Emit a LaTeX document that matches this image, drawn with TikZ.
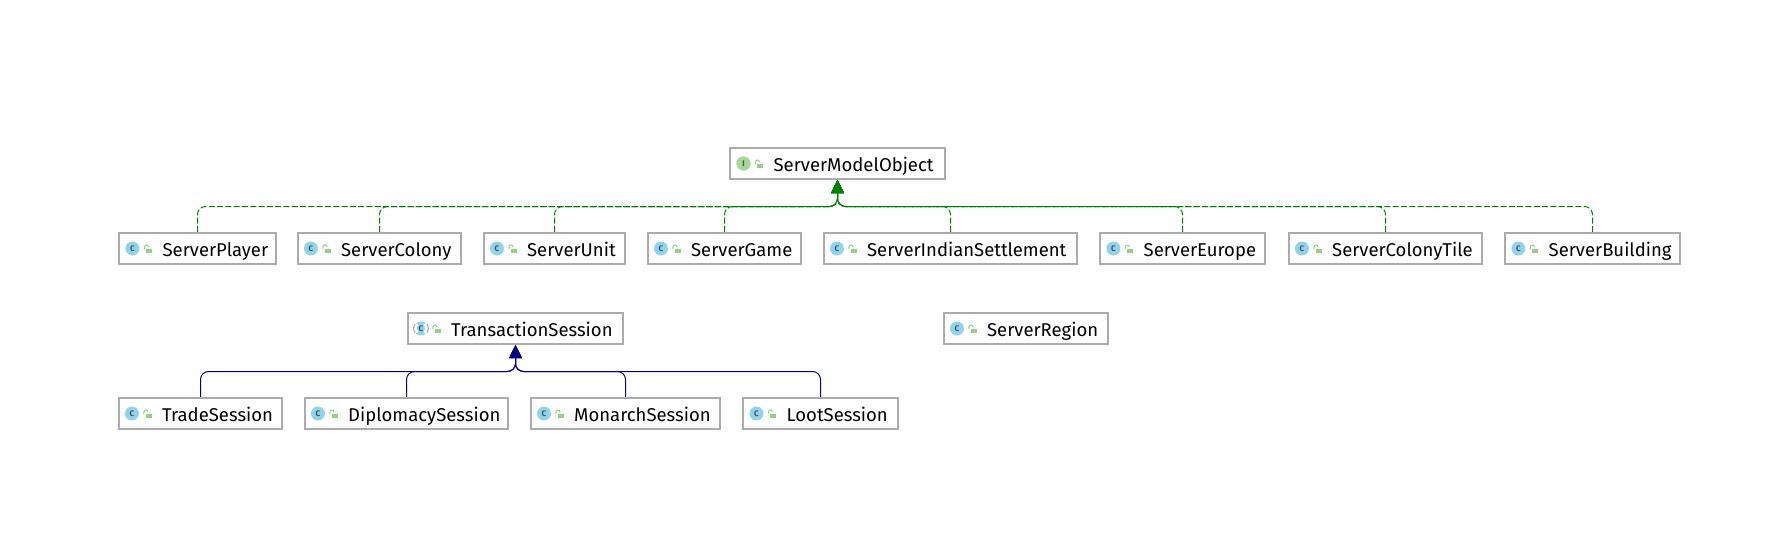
\documentclass[tikz,border=0pt]{standalone}
\usepackage{fontspec}
\setmainfont{Fira Sans}
\usetikzlibrary{arrows.meta}
\definecolor{boxgray}{HTML}{ABABAB}
\definecolor{classblue}{HTML}{8FD3EC}
\definecolor{ifacegreen}{HTML}{A6D795}
\definecolor{lockgreen}{HTML}{95CF85}
\definecolor{realizegreen}{HTML}{008000}
\definecolor{extendblue}{HTML}{000080}
\tikzset{
	classbox/.style={draw=boxgray, fill=white, line width=1.6pt, minimum height=31.5pt, inner sep=0pt},
	classlabel/.style={anchor=base west, inner sep=0pt, font=\fontsize{18.5}{20}\selectfont},
	classicon/.style={circle, fill=classblue, minimum size=14pt, inner sep=0pt, text=black!70, font=\fontsize{8}{8}\selectfont\bfseries},
	realize/.style={draw=realizegreen, line width=1pt, rounded corners=8pt, dash pattern=on 6pt off 2.3pt, -{Triangle[length=13pt,width=12.5pt,fill=realizegreen]}},
	extend/.style={draw=extendblue, line width=1pt, rounded corners=8pt, -{Triangle[length=13pt,width=12.5pt,fill=extendblue]}},
}
\begin{document}
\begin{tikzpicture}[x=1pt,y=-1pt]
	\useasboundingbox (0,0) rectangle (1776,548);

	% every box: name / centre x / centre y / width
	\foreach \name/\cx/\cy/\boxw in {
		ServerModelObject/837.5/163.5/214.5,
		ServerPlayer/197.5/248.5/156.5,
		ServerColony/379.5/248.5/163.5,
		ServerUnit/554.5/248.5/141.5,
		ServerGame/724.5/248.5/153.5,
		ServerIndianSettlement/950.5/248.5/253.5,
		ServerEurope/1182.5/248.5/164.5,
		ServerColonyTile/1385.5/248.5/193.5,
		ServerBuilding/1592.5/248.5/174.5,
		TransactionSession/515.5/328.5/215.5,
		ServerRegion/1026/328.5/164.5,
		TradeSession/200.5/413.5/163.5,
		DiplomacySession/406.5/413.5/203.5,
		MonarchSession/625.5/413.5/189.5,
		LootSession/820.5/413.5/154.5}{
		\node[classbox, minimum width=\boxw pt] (\name) at (\cx,\cy) {};
		\node[classlabel] (\name-text) at ([xshift=44pt,yshift=-8pt]\name.west) {\name};
		\node[classicon] (\name-icon) at ([xshift=14pt]\name.west) {C};
		\fill[lockgreen] ([xshift=28pt,yshift=-.3pt]\name.west) rectangle ([xshift=34pt,yshift=-4.8pt]\name.west);
		\draw[lockgreen, line width=1pt] ([xshift=26pt,yshift=-.5pt]\name.west) -- ([xshift=26pt,yshift=1.5pt]\name.west) arc[start angle=180, end angle=0, radius=2pt];
	}

	\node[classicon, fill=ifacegreen] (ifaceIcon) at (ServerModelObject-icon) {I};

	% abstract class: the blue disc is cut at both sides, with grey brackets
	\draw[white, line width=2.6pt] ([shift={(130:5.6pt)}]TransactionSession-icon.center) arc[start angle=130, end angle=230, radius=5.6pt];
	\draw[white, line width=2.6pt] ([shift={(-50:5.6pt)}]TransactionSession-icon.center) arc[start angle=-50, end angle=50, radius=5.6pt];
	\draw[boxgray, line width=1pt] ([shift={(145:7.5pt)}]TransactionSession-icon.center) arc[start angle=145, end angle=215, radius=7.5pt];
	\draw[boxgray, line width=1pt] ([shift={(-35:7.5pt)}]TransactionSession-icon.center) arc[start angle=-35, end angle=35, radius=7.5pt];

	\coordinate (implBus) at (837.5,206.5);
	\coordinate (sessionBus) at (515.5,371.5);

	\foreach \name in {ServerPlayer,ServerColony,ServerUnit,ServerGame,ServerIndianSettlement,ServerEurope,ServerColonyTile,ServerBuilding}{
		\draw[realize] (\name.north) |- (implBus) -- (ServerModelObject.south);
	}

	\foreach \name in {TradeSession,DiplomacySession,MonarchSession,LootSession}{
		\draw[extend] (\name.north) |- (sessionBus) -- (TransactionSession.south);
	}
\end{tikzpicture}
\end{document}
